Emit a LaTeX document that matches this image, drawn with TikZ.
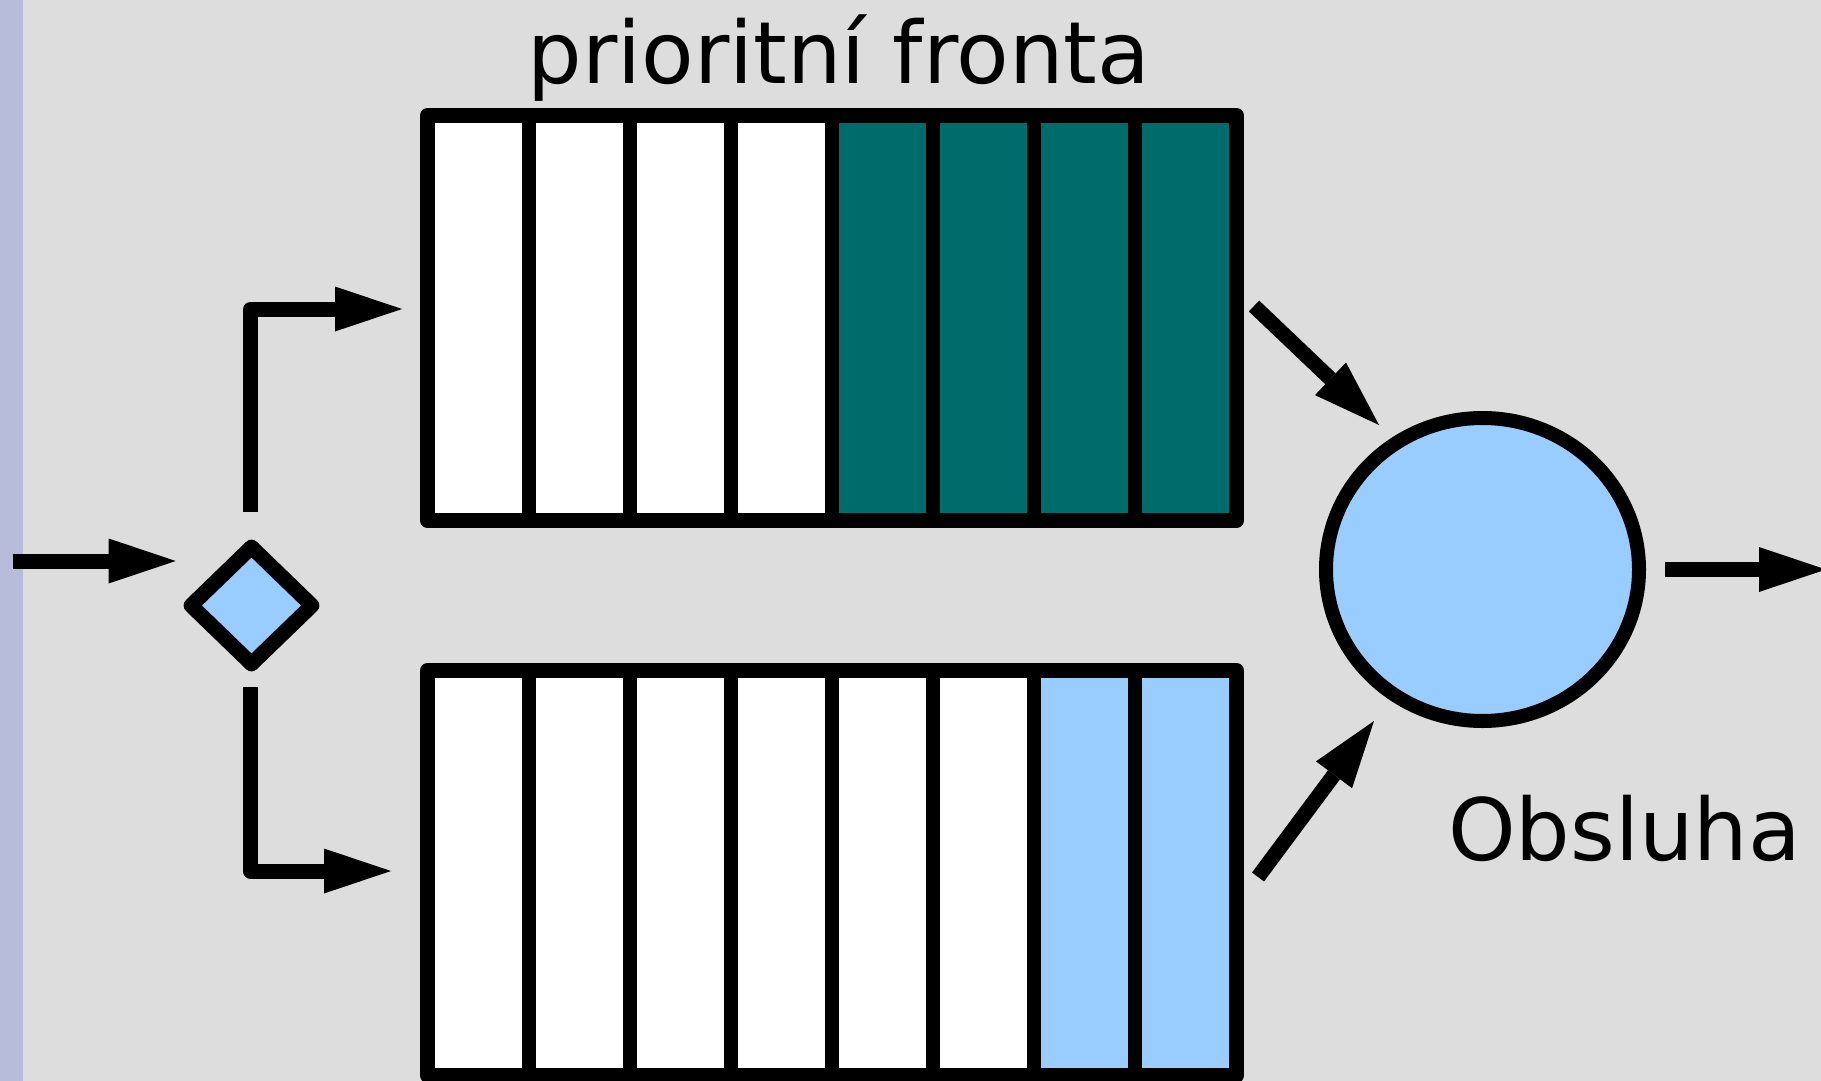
\documentclass[tikz,border=0pt]{standalone}
\usepackage{fontspec}
\setmainfont{DejaVu Sans}
\usetikzlibrary{arrows.meta,shapes.geometric,calc}
\definecolor{bgc}{HTML}{DDDDDD}
\definecolor{stripc}{HTML}{B8BCDB}
\definecolor{qteal}{HTML}{006B6B}
\definecolor{lblue}{HTML}{99CCFF}
\begin{document}
\begin{tikzpicture}[x=0.5pt,y=-0.5pt,
  conn/.style={line width=7.5pt, line join=round, -{Triangle[length=33.5pt,width=22.5pt,line width=0pt]}},
  queue/.style={rectangle, minimum width=404.5pt, minimum height=202.5pt, inner sep=0pt, outer sep=0pt, fill=white},
  divider/.style={line width=7pt},
  qborder/.style={line width=7.5pt, line join=round},
  bigtext/.style={font=\fontsize{43}{50}\selectfont, anchor=base, inner sep=0pt}]
\useasboundingbox (0,0) rectangle (1821,1081);
\fill[bgc] (0,0) rectangle (1821,1081);
\fill[stripc] (0,0) rectangle (23,1081);
% top queue
\node[queue] (qt) at (832,318) {};
\fill[qteal] ($(qt.north west)!0.5!(qt.north east)$) rectangle (qt.south east);
\foreach \k in {1,...,7}
  \draw[divider] ($(qt.north west)!\k/8!(qt.north east)$) -- ($(qt.south west)!\k/8!(qt.south east)$);
\draw[qborder] (qt.north west) rectangle (qt.south east);
% bottom queue
\node[queue] (qb) at (832,873) {};
\fill[lblue] ($(qb.north west)!0.75!(qb.north east)$) rectangle (qb.south east);
\foreach \k in {1,...,7}
  \draw[divider] ($(qb.north west)!\k/8!(qb.north east)$) -- ($(qb.south west)!\k/8!(qb.south east)$);
\draw[qborder] (qb.north west) rectangle (qb.south east);
% decision diamond
\node[shape=diamond, draw, fill=lblue, line width=7.5pt, line join=round, minimum width=63.5pt, minimum height=61.5pt, inner sep=0pt] (dia) at (251.5,605.5) {};
% server
\node[ellipse, draw, fill=lblue, line width=7pt, minimum width=156.5pt, minimum height=151.5pt, inner sep=0pt] (srv) at (1482.5,569.5) {};
% texts
\node[bigtext] (title) at (839,83.6) {prioritní fronta};
\node[bigtext] (lbl) at (1624.5,860.6) {Obsluha};
% connectors
\coordinate (inS) at (12.7,561);
\coordinate (inT) at (175.7,561);
\coordinate (b1s) at (250.8,511.7);
\coordinate (b1t) at (402,309);
\coordinate (b2s) at (250.5,687);
\coordinate (b2t) at (391,871);
\coordinate (d1s) at (1254,306);
\coordinate (d1t) at (1379,425);
\coordinate (d2s) at (1258,877);
\coordinate (d2t) at (1374,721);
\coordinate (oS) at (1665,569.5);
\coordinate (oT) at (1826,569.5);
\draw[conn] (inS) -- (inT);
\draw[conn] (b1s) |- (b1t);
\draw[conn] (b2s) |- (b2t);
\draw[conn] (d1s) -- (d1t);
\draw[conn] (d2s) -- (d2t);
\draw[conn] (oS) -- (oT);
\end{tikzpicture}
\end{document}
